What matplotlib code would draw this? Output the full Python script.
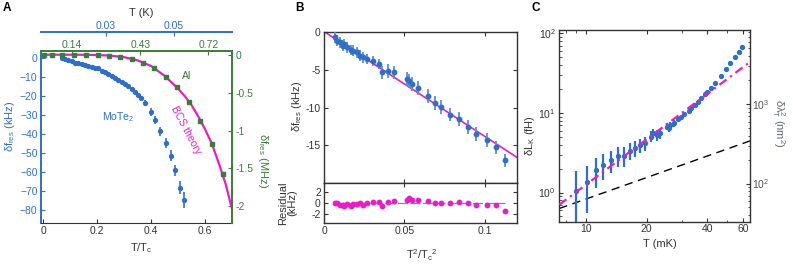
import numpy as np
import matplotlib
matplotlib.use('Agg')
import matplotlib.pyplot as plt
from matplotlib.ticker import LogLocator, NullFormatter, FixedLocator

plt.rcParams['font.family'] = ['Liberation Sans', 'DejaVu Sans']
plt.rcParams['font.size'] = 7.5
plt.rcParams['mathtext.fontset'] = 'custom'
plt.rcParams['mathtext.rm'] = 'Liberation Sans'
plt.rcParams['mathtext.it'] = 'Liberation Sans:italic'
plt.rcParams['xtick.direction'] = 'in'
plt.rcParams['ytick.direction'] = 'in'
plt.rcParams['xtick.major.size'] = 3
plt.rcParams['ytick.major.size'] = 3
plt.rcParams['xtick.minor.size'] = 1.8
plt.rcParams['ytick.minor.size'] = 1.8
plt.rcParams['xtick.major.pad'] = 2.5
plt.rcParams['ytick.major.pad'] = 2.5

BLUE = '#2f6fc6'
GREEN = '#3a7d3a'
MAG = '#e61ec8'
DARK = '#333333'
TS = 7.5   # tick label size

# ---- panel A data ----
mote_t = [0.068, 0.080, 0.093, 0.105, 0.117, 0.130, 0.142, 0.154, 0.167, 0.179,
          0.191, 0.204, 0.216, 0.229, 0.241, 0.253, 0.266, 0.278, 0.290, 0.303,
          0.315, 0.327, 0.340, 0.352, 0.362,
          0.377, 0.398, 0.414, 0.432, 0.453, 0.473, 0.488, 0.506, 0.522]
mote_df = [0.0, -0.5, -1.2, -1.7, -2.3, -2.6, -3.0, -3.5, -4.0, -4.4,
           -4.9, -5.3, -6.5, -7.4, -8.2, -9.3, -10.3, -11.4, -12.4, -13.5,
           -14.5, -16.3, -18.0, -19.6, -20.7,
           -23.6, -28.4, -32.4, -38.5, -44.6, -51.3, -59.0, -68.2, -74.7]
mote_err = [0.4] * 25 + [1.5, 2.0, 2.0, 2.5, 2.5, 3.0, 3.0, 3.5, 4.0]

al_t = [0.004, 0.033, 0.070, 0.114, 0.158, 0.201, 0.243, 0.285, 0.329, 0.370,
        0.411, 0.453, 0.495, 0.540, 0.580, 0.624, 0.664]
al_df = [0.0, 0.0, 0.0, 0.0, 0.0, -0.003, -0.013, -0.027, -0.054, -0.104,
         -0.18, -0.292, -0.427, -0.625, -0.868, -1.173, -1.573]

bcs_t = [0.0, 0.1, 0.15, 0.2, 0.25, 0.3, 0.35, 0.4, 0.45, 0.5, 0.525, 0.55,
         0.575, 0.6, 0.625, 0.65, 0.675, 0.7]
bcs_df = [0.0, 0.0, -0.001, -0.004, -0.013, -0.033, -0.075, -0.15, -0.28, -0.45,
          -0.55, -0.67, -0.82, -0.99, -1.18, -1.43, -1.70, -2.05]

# ---- panel B data ----
t2 = [0.0067, 0.0081, 0.0098, 0.0115, 0.0123, 0.0140, 0.0165, 0.0181, 0.0202, 0.0223,
      0.0239, 0.0268, 0.0306, 0.0343, 0.0358, 0.0399, 0.0435, 0.0517, 0.0530, 0.0545,
      0.0586, 0.0648, 0.0690, 0.0726, 0.0784, 0.0842, 0.0898, 0.0946, 0.1012, 0.1070,
      0.1127]
df_b = [-0.75, -1.2, -1.42, -1.85, -1.64, -2.08, -2.43, -2.5, -2.74, -3.18,
        -3.4, -3.62, -3.84, -4.28, -5.38, -5.16, -5.38, -6.27, -6.5, -6.9,
        -7.45, -8.52, -9.39, -9.97, -10.94, -11.5, -12.57, -13.5, -14.3, -15.26,
        -16.98]
err_b = [0.7] * 14 + [0.9] * 17
resid = [0.0, 0.0, -0.3, -0.42, -0.48, -0.18, -0.48, -0.18, -0.18, 0.0,
         -0.3, 0.0, 0.12, 0.18, -0.48, 0.12, 0.3, 0.6, 0.9, 0.6,
         0.48, 0.36, 0.0, 0.0, -0.06, 0.24, -0.06, -0.42, -0.3, -0.42,
         -1.4]
fit_slope = -138.0  # kHz per unit T^2/Tc^2

# ---- panel C data ----
t_mk = [9.0, 10.2, 11.3, 12.2, 13.4, 14.5, 15.5, 16.5, 17.5, 18.5,
        19.6, 21.0, 21.5, 22.5, 23.3, 25.2, 25.7, 26.2, 27.2, 28.6,
        29.7, 30.6, 32.4, 33.3, 34.6, 35.9, 37.4, 38.9, 40.0, 41.6,
        43.6, 46.5, 49.5, 52.0, 54.8, 57.3, 59.3]
lk = [1.06, 1.35, 1.93, 2.23, 2.57, 2.91, 2.91, 3.33, 3.6, 3.97,
      4.16, 5.05, 5.56, 5.3, 5.56, 6.73, 6.4, 7.06, 7.4, 8.4,
      9.0, 9.6, 10.6, 11.4, 12.6, 13.9, 15.6, 17.1, 18.5, 20.3,
      23.5, 29.0, 35.5, 42.0, 50.0, 58.0, 68.0]
lk_err = [0.8] * 15 + [0.7] * 4 + [0.0] * 18
pow_fit = (0.0157, 1.9)    # dash-dot
lin_fit = (0.104, 0.9)     # dashed
lam_factor = 77.1          # nm^2 per fH

fig = plt.figure(figsize=(7.93, 2.71), dpi=100)


def style_box(ax):
    for s in ax.spines.values():
        s.set_color(DARK)
        s.set_linewidth(1.0)
    ax.tick_params(colors=DARK, labelcolor=DARK, top=True, right=True, which='both', labelsize=TS)


def label(ax, x, y, s, color=DARK, rot=0, **kw):
    ax.text(x, y, s, transform=ax.transAxes, color=color, rotation=rot,
            ha='center', va='center', fontsize=8, **kw)


# ================= A =================
axA = fig.add_axes([41/793, 1-223/271, 191/793, 172/271])
axA.errorbar(mote_t, mote_df, yerr=mote_err, fmt='o', ms=2.8, color=BLUE,
             ecolor=BLUE, elinewidth=1.2, capsize=0, zorder=3)
axA.set_xlim(-0.0085, 0.699)
axA.set_ylim(-86.8, 3.8)
axA.set_yticks(np.arange(-80, 1, 10))
axA.set_xticks([0, 0.2, 0.4, 0.6])
axA.set_xticklabels(['0', '0.2', '0.4', '0.6'])
axA.tick_params(axis='y', colors=BLUE, labelcolor=BLUE, labelsize=TS)
axA.tick_params(axis='x', colors=DARK, labelcolor=DARK, labelsize=TS)
axA.text(0.277, -30.8, 'MoTe$_2$', color=BLUE, ha='center', va='center', fontsize=7.5)

axR = axA.twinx()
axR.plot(bcs_t, bcs_df, color=MAG, lw=1.6, zorder=2)
axR.plot(al_t, al_df, 's', ms=3.2, color=GREEN, zorder=4)
axR.set_ylim(-2.22, 0.049)
axR.set_yticks([0, -0.5, -1, -1.5, -2])
axR.set_yticklabels(['0', '-0.5', '-1', '-1.5', '-2'])
axR.tick_params(axis='y', colors=GREEN, labelcolor=GREEN, labelsize=TS)
axR.text(0.532, -0.28, 'Al', color=GREEN, ha='center', va='center', fontsize=7.5)
axR.text(0.527, -1.0, 'BCS theory', color=MAG, ha='center', va='center',
         rotation=-62, fontsize=7.5)

axG = axA.twiny()
axG.set_xlim(0.007, 0.821)
axG.set_xticks([0.14, 0.43, 0.72])
axG.set_xticklabels(['0.14', '0.43', '0.72'])
axG.tick_params(axis='x', colors=GREEN, labelcolor=GREEN, labelsize=TS, pad=1)

axK = axA.twiny()
axK.set_xlim(0.0109, 0.0671)
axK.set_xticks([0.03, 0.05])
axK.set_xticklabels(['0.03', '0.05'])
axK.spines['top'].set_position(('outward', 13.7))
axK.tick_params(axis='x', colors=BLUE, labelcolor=BLUE, labelsize=TS, pad=1)

for a in (axA, axR, axG, axK):
    for s in a.spines.values():
        s.set_visible(False)
axA.spines['left'].set_visible(True)
axA.spines['left'].set_color(BLUE)
axA.spines['left'].set_linewidth(1.4)
axA.spines['bottom'].set_visible(True)
axA.spines['bottom'].set_color(DARK)
axR.spines['right'].set_visible(True)
axR.spines['right'].set_color(GREEN)
axR.spines['right'].set_linewidth(1.4)
axG.spines['top'].set_visible(True)
axG.spines['top'].set_color(GREEN)
axG.spines['top'].set_linewidth(1.4)
axK.spines['top'].set_visible(True)
axK.spines['top'].set_color(BLUE)
axK.spines['top'].set_linewidth(1.4)

label(axA, -0.162, 0.56, 'δf$_\\mathregular{res}$ (kHz)', color=BLUE, rot=90)
label(axA, 1.16, 0.36, 'δf$_\\mathregular{res}$ (MHz)', color=GREEN, rot=270)
label(axA, 0.527, -0.145, 'T/T$_\\mathregular{c}$')
label(axA, 0.527, 1.221, 'T (K)')

# ================= B =================
axB = fig.add_axes([324.3/793, 1-183.3/271, 192.4/793, 151.6/271])
xfit = np.array([0.0, 0.12])
axB.plot(xfit, fit_slope * xfit, color=MAG, lw=1.2, zorder=2)
axB.errorbar(t2, df_b, yerr=err_b, fmt='o', ms=3.2, color=BLUE, ecolor='#5b8fd6',
             elinewidth=1.3, capsize=0, zorder=3)
axB.set_xlim(0, 0.12)
axB.set_ylim(-20, 0)
axB.set_yticks([0, -5, -10, -15])
axB.set_yticklabels(['0', '-5', '-10', '-15'])
axB.set_xticks([0, 0.05, 0.1])
axB.set_xticklabels([])
style_box(axB)
label(axB, -0.14, 0.51, 'δf$_\\mathregular{res}$ (kHz)', rot=90)

axBr = fig.add_axes([324.3/793, 1-222.7/271, 192.4/793, 39.4/271])
axBr.plot([t2[0], t2[-1]], [0, 0], color='#888888', lw=0.9, dashes=(8, 2), zorder=1)
axBr.plot(t2, resid, 'o', ms=3.2, color=MAG, zorder=3)
axBr.set_xlim(0, 0.12)
axBr.set_ylim(-3.6, 3.6)
axBr.set_yticks([-2, 0, 2])
axBr.set_yticklabels(['-2', '0', '2'])
axBr.set_xticks([0, 0.05, 0.1])
axBr.set_xticklabels(['0', '0.05', '0.1'])
style_box(axBr)
label(axBr, -0.19, 0.5, 'Residual\n(kHz)', rot=90, linespacing=1.0)
label(axBr, 0.508, -0.82, 'T$^2$/T$_\\mathregular{c}$$^2$')

# ================= C =================
axC = fig.add_axes([559.3/793, 1-221.7/271, 190.7/793, 191.7/271])
axC.set_xscale('log')
axC.set_yscale('log')
tt = np.array([7.4, 65.0])
axC.plot(tt, lin_fit[0] * tt ** lin_fit[1], color='black', lw=1.0, dashes=(6, 4), zorder=2)
axC.plot(tt, pow_fit[0] * tt ** pow_fit[1], color=MAG, lw=1.6, dashes=(4, 2, 1, 2), zorder=4)
axC.errorbar(t_mk, lk, yerr=lk_err, fmt='o', ms=2.8, color=BLUE, ecolor=BLUE,
             elinewidth=1.6, capsize=0, zorder=3)
axC.set_xlim(7.4, 65)
axC.set_ylim(0.43, 110)
axC.set_xticks([10, 20, 40, 60])
axC.set_xticklabels(['10', '20', '40', '60'])
axC.xaxis.set_minor_locator(FixedLocator([8, 9, 30, 50]))
axC.xaxis.set_minor_formatter(NullFormatter())
style_box(axC)
axC.tick_params(right=False, which='both', axis='y')
axC.tick_params(axis='x', pad=1.5)
label(axC, -0.155, 0.452, 'δL$_\\mathregular{K}$ (fH)', rot=90)
label(axC, 0.528, -0.115, 'T (mK)')

axC2 = axC.twinx()
axC2.set_yscale('log')
lo, hi = axC.get_ylim()
axC2.set_ylim(lo * lam_factor, hi * lam_factor)
axC2.yaxis.set_major_locator(LogLocator(base=10, numticks=10))
axC2.yaxis.set_minor_locator(LogLocator(base=10, subs=np.arange(2, 10), numticks=10))
axC2.yaxis.set_minor_formatter(NullFormatter())
axC2.tick_params(axis='y', which='both', colors=DARK, labelcolor='#555555', labelsize=TS, pad=1.5)
for s in axC2.spines.values():
    s.set_visible(False)
label(axC2, 1.15, 0.515, 'δλ$_\\mathregular{T}^2$ (nm$^2$)', color='#5a6878', rot=270)

for lab, xp in (('A', 3), ('B', 295), ('C', 531)):
    fig.text(xp/793, 1-8/271, lab, fontsize=8.5, fontweight='bold', va='center', ha='left')

fig.savefig('out.png', dpi=100)
